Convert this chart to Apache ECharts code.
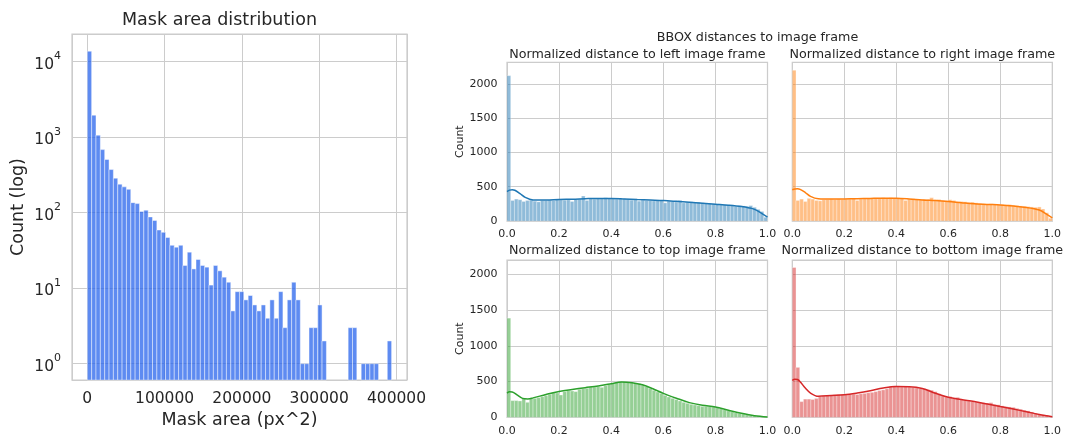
<!DOCTYPE html>
<html>
<head>
<meta charset="utf-8">
<script src="https://cdn.jsdelivr.net/npm/echarts@6/dist/echarts.min.js"></script>
<style>
  html, body { margin: 0; padding: 0; background: #fff; }
  #chart { width: 1066px; height: 438px; }
</style>
</head>
<body>
<div id="chart"></div>
<script>
  // mask area histogram (70 equal bins from 0 to areaMax)
  const areaMax = 393700;
  const areaCounts = [
    13800, 1960, 1065, 685, 507, 373, 287, 239, 220, 204,
    136, 132, 104, 108, 88, 79, 59, 55, 47, 37,
    35, 37, 20, 30, 18, 24, 20, 19, 11, 20,
    17, 14, 12, 5, 9, 9, 7, 8, 6, 5,
    6, 4, 7, 4, 9, 3, 7, 12, 7, 1,
    1, 3, 3, 6, 2, 0, 0, 0, 0, 0,
    3, 3, 0, 1, 1, 1, 1, 0, 0, 2
  ];

  // normalized bbox distances, 70 bins over [0, 1]
  const leftCounts = [
    2120, 300, 320, 310, 285, 300, 305, 290, 280, 300,
    300, 305, 300, 315, 310, 305, 310, 285, 315, 320,
    365, 300, 325, 320, 330, 325, 340, 330, 325, 320,
    335, 325, 320, 305, 310, 290, 305, 300, 300, 295,
    300, 305, 265, 290, 285, 280, 300, 265, 275, 280,
    270, 275, 265, 260, 255, 250, 250, 245, 240, 235,
    230, 215, 225, 220, 215, 225, 200, 170, 140, 55
  ];
  const rightCounts = [
    2200, 300, 320, 285, 330, 320, 300, 295, 310, 315,
    320, 315, 320, 315, 320, 320, 325, 300, 320, 325,
    330, 330, 335, 335, 340, 335, 340, 335, 330, 335,
    300, 320, 325, 320, 310, 320, 315, 340, 310, 315,
    300, 295, 310, 300, 280, 285, 280, 270, 275, 265,
    255, 250, 245, 250, 245, 240, 240, 235, 240, 230,
    225, 220, 215, 210, 205, 200, 205, 175, 120, 40
  ];
  const topCounts = [
    1390, 234, 234, 229, 266, 210, 266, 266, 276, 290,
    304, 322, 346, 341, 313, 360, 374, 369, 360, 393,
    402, 407, 425, 425, 430, 420, 444, 463, 481, 491,
    500, 500, 491, 486, 481, 472, 453, 430, 407, 379,
    355, 332, 308, 285, 266, 248, 229, 210, 196, 182,
    173, 164, 154, 154, 150, 145, 136, 122, 107, 93,
    79, 65, 56, 47, 37, 28, 23, 19, 14, 9
  ];
  const bottomCounts = [
    2100, 700, 220, 255, 255, 250, 265, 290, 300, 305,
    310, 315, 320, 320, 320, 325, 325, 320, 330, 335,
    345, 350, 360, 375, 385, 400, 430, 440, 430, 425,
    430, 425, 420, 415, 405, 400, 390, 380, 360, 330,
    300, 285, 290, 265, 280, 250, 240, 230, 225, 215,
    215, 205, 200, 205, 180, 175, 160, 150, 145, 140,
    125, 115, 100, 90, 75, 60, 45, 35, 25, 10
  ];

  // kde curves, [distance, count]
  const leftKde = [
    [0, 430], [0.01, 450], [0.02, 455], [0.03, 448], [0.05, 400], [0.07, 345], [0.1, 308],
    [0.15, 305], [0.2, 315], [0.25, 318], [0.3, 325], [0.35, 330], [0.4, 330], [0.45, 322],
    [0.5, 312], [0.55, 305], [0.6, 298], [0.65, 287], [0.7, 275], [0.75, 260], [0.8, 245],
    [0.85, 230], [0.9, 210], [0.93, 190], [0.95, 170], [0.97, 130], [1, 55]
  ];
  const rightKde = [
    [0, 455], [0.01, 468], [0.02, 470], [0.03, 462], [0.05, 415], [0.07, 360], [0.1, 325],
    [0.15, 320], [0.2, 322], [0.25, 326], [0.3, 330], [0.35, 333], [0.4, 332], [0.45, 322],
    [0.5, 307], [0.55, 298], [0.6, 285], [0.65, 268], [0.7, 252], [0.75, 242], [0.8, 235],
    [0.85, 220], [0.9, 198], [0.93, 180], [0.95, 160], [0.97, 120], [1, 45]
  ];
  const topKde = [
    [0, 340], [0.01, 358], [0.02, 355], [0.04, 310], [0.06, 265], [0.08, 258], [0.1, 272],
    [0.15, 320], [0.2, 362], [0.25, 390], [0.3, 415], [0.35, 440], [0.4, 470], [0.44, 495],
    [0.48, 485], [0.52, 455], [0.56, 400], [0.6, 336], [0.65, 268], [0.7, 206], [0.75, 168],
    [0.8, 145], [0.85, 100], [0.9, 56], [0.95, 22], [1, 5]
  ];
  const bottomKde = [
    [0, 518], [0.01, 535], [0.02, 530], [0.03, 500], [0.05, 410], [0.07, 340], [0.1, 295],
    [0.15, 305], [0.2, 315], [0.25, 340], [0.3, 372], [0.35, 410], [0.4, 430], [0.45, 428],
    [0.5, 405], [0.55, 338], [0.6, 280], [0.65, 248], [0.7, 220], [0.75, 185], [0.8, 150],
    [0.85, 115], [0.9, 79], [0.95, 40], [1, 9]
  ];

  const distTicks = [0, 0.2, 0.4, 0.6, 0.8, 1];
  const panelTitles = [
    'Normalized distance to left image frame',
    'Normalized distance to right image frame',
    'Normalized distance to top image frame',
    'Normalized distance to bottom image frame'
  ];

  const FONT = 'DejaVu Sans';
  const INK = '#262626';
  const GRID_LINE = '#cccccc';

  const panels = [
    { counts: leftCounts, kde: leftKde, line: '#1f77b4', fill: 'rgba(31,119,180,0.5)', ymax: 2315, labels: true },
    { counts: rightCounts, kde: rightKde, line: '#ff7f0e', fill: 'rgba(255,127,14,0.5)', ymax: 2315, labels: false },
    { counts: topCounts, kde: topKde, line: '#2ca02c', fill: 'rgba(44,160,44,0.5)', ymax: 2205, labels: true },
    { counts: bottomCounts, kde: bottomKde, line: '#d62728', fill: 'rgba(214,39,40,0.5)', ymax: 2205, labels: false }
  ];

  const grids = [
    { left: 72, top: 34, width: 335, height: 346 },
    { left: 507, top: 62.3, width: 260.5, height: 158.7 },
    { left: 792.3, top: 62.3, width: 260, height: 158.7 },
    { left: 507, top: 260, width: 260.5, height: 157.3 },
    { left: 792.3, top: 260, width: 260, height: 157.3 }
  ];

  function histItem(fill, stroke) {
    return function (params, api) {
      const c = api.value(2);
      const p0 = api.coord([api.value(0), c]);
      const p1 = api.coord([api.value(1), c]);
      const cs = params.coordSys;
      const base = cs.y + cs.height;
      return {
        type: 'rect',
        shape: { x: p0[0], y: p0[1], width: p1[0] - p0[0], height: base - p0[1] },
        style: { fill: fill, stroke: stroke, lineWidth: 0.6 }
      };
    };
  }

  function binned(counts, max) {
    const w = max / counts.length;
    return counts.map((c, i) => [i * w, (i + 1) * w, c]).filter(d => d[2] > 0);
  }

  const splitLine = { show: true, lineStyle: { color: GRID_LINE, width: 1 } };

  const xAxis = [
    {
      gridIndex: 0,
      type: 'value',
      min: -19800,
      max: 413600,
      splitNumber: 5,
      axisLine: { show: false },
      axisTick: { show: false },
      splitLine: splitLine,
      axisLabel: {
        fontFamily: FONT, fontSize: 15.5, color: INK, margin: 11,
        formatter: v => (Math.abs(v % 100000) < 1e-6 ? String(v) : '')
      },
      name: 'Mask area (px^2)',
      nameLocation: 'middle',
      nameGap: 31,
      nameTextStyle: { fontFamily: FONT, fontSize: 17.5, color: INK }
    }
  ];
  const yAxis = [
    {
      gridIndex: 0,
      type: 'log',
      logBase: 10,
      min: 0.608,
      max: 23300,
      axisLine: { show: false },
      axisTick: { show: false },
      splitLine: splitLine,
      axisLabel: {
        margin: 11,
        formatter: function (v) {
          const e = Math.log10(v);
          const r = Math.round(e);
          if (Math.abs(e - r) > 1e-6) return '';
          return '{b|10}{s|' + r + '}';
        },
        rich: {
          b: { fontFamily: FONT, fontSize: 15.5, color: INK, lineHeight: 22, verticalAlign: 'bottom' },
          s: { fontFamily: FONT, fontSize: 11, color: INK, lineHeight: 11, verticalAlign: 'top' }
        }
      },
      name: 'Count (log)',
      nameLocation: 'middle',
      nameGap: 45,
      nameTextStyle: { fontFamily: FONT, fontSize: 17.5, color: INK }
    }
  ];

  const series = [
    {
      type: 'custom',
      xAxisIndex: 0,
      yAxisIndex: 0,
      renderItem: histItem('rgba(40,100,236,0.75)', 'rgba(255,255,255,0.75)'),
      encode: { x: [0, 1], y: 2 },
      data: binned(areaCounts, areaMax)
    }
  ];

  panels.forEach((p, i) => {
    const g = i + 1;
    xAxis.push({
      gridIndex: g,
      type: 'value',
      min: distTicks[0],
      max: distTicks[distTicks.length - 1],
      interval: 0.2,
      axisLine: { show: false },
      axisTick: { show: false },
      splitLine: splitLine,
      axisLabel: { fontFamily: FONT, fontSize: 11, color: INK, margin: 8, formatter: v => v.toFixed(1) }
    });
    yAxis.push({
      gridIndex: g,
      type: 'value',
      min: 0,
      max: p.ymax,
      interval: 500,
      axisLine: { show: false },
      axisTick: { show: false },
      splitLine: splitLine,
      axisLabel: {
        show: p.labels, fontFamily: FONT, fontSize: 11, color: INK, margin: 9.5,
        formatter: v => (v % 500 === 0 ? String(v) : '')
      },
      name: p.labels ? 'Count' : '',
      nameLocation: 'middle',
      nameGap: 38,
      nameTextStyle: { fontFamily: FONT, fontSize: 11, color: INK }
    });
    series.push({
      type: 'custom',
      xAxisIndex: g,
      yAxisIndex: g,
      renderItem: histItem(p.fill, 'rgba(255,255,255,0.55)'),
      encode: { x: [0, 1], y: 2 },
      data: binned(p.counts, 1)
    });
    series.push({
      type: 'line',
      xAxisIndex: g,
      yAxisIndex: g,
      data: p.kde,
      showSymbol: false,
      smooth: 0.35,
      lineStyle: { color: p.line, width: 1.5 },
      z: 3
    });
  });

  function label(text, x, y, size) {
    return {
      type: 'text',
      x: x,
      y: y,
      style: { text: text, fontFamily: FONT, fontSize: size, fill: INK, align: 'center', verticalAlign: 'middle' }
    };
  }

  const chart = echarts.init(document.getElementById('chart'), null, { renderer: 'canvas' });
  chart.setOption({
    backgroundColor: '#ffffff',
    animation: false,
    grid: grids.map(g => Object.assign({ show: true, borderColor: GRID_LINE, borderWidth: 1.25, containLabel: false }, g)),
    xAxis: xAxis,
    yAxis: yAxis,
    series: series,
    graphic: [
      label('Mask area distribution', 219.5, 20, 17.5),
      label('BBOX distances to image frame', 757.5, 37.5, 12.7),
      label(panelTitles[0], 637.3, 54.3, 12.7),
      label(panelTitles[1], 922.3, 54.3, 12.7),
      label(panelTitles[2], 637.3, 250.7, 12.7),
      label(panelTitles[3], 922.3, 250.7, 12.7)
    ]
  });
</script>
</body>
</html>
